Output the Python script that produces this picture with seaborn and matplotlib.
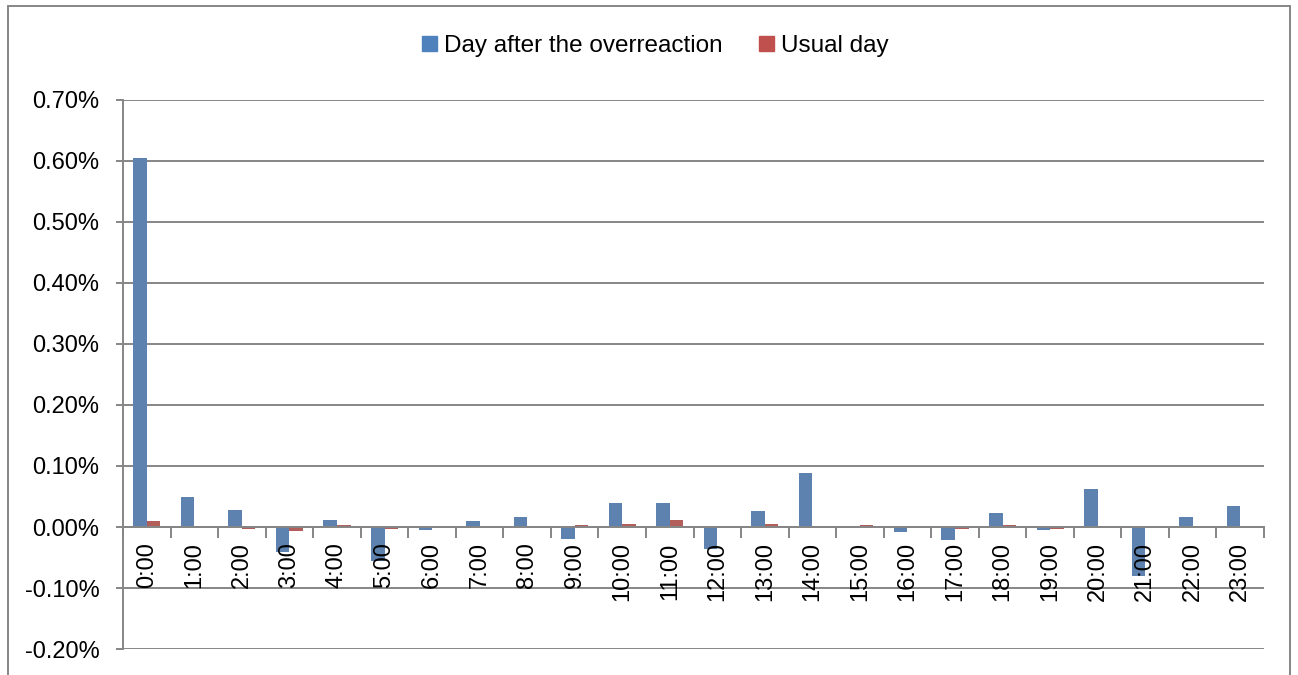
import pandas as pd
import numpy as np
import matplotlib.pyplot as plt
import matplotlib.patches as patches
from matplotlib.ticker import FuncFormatter, FixedLocator
import seaborn as sns

#values (in percent)
hours = [str(h) + ":00" for h in range(24)]
day_after = [0.605, 0.049, 0.028, -0.041, 0.012, -0.055, -0.005, 0.010, 0.017, -0.019,
             0.040, 0.040, -0.036, 0.027, 0.088, 0.001, -0.009, -0.022, 0.023, -0.005,
             0.063, -0.080, 0.016, 0.034]
usual_day = [0.010, -0.002, -0.004, -0.007, 0.004, -0.004, -0.002, 0.002, -0.001, 0.004,
             0.005, 0.012, 0.001, 0.005, 0.001, 0.004, 0.000, -0.004, 0.004, -0.003,
             0.001, 0.001, 0.001, 0.000]
series = ["Day after the overreaction", "Usual day"]
colors = ["#4F81BD", "#C0504D"]

df = pd.DataFrame({"hour": hours * 2,
                   "value": day_after + usual_day,
                   "series": [series[0]] * 24 + [series[1]] * 24})

sns.set_style("white")
plt.rcParams['font.family'] = ['Liberation Sans', 'DejaVu Sans']
plt.rcParams['text.color'] = 'black'
plt.rcParams['xtick.labelcolor'] = 'black'
plt.rcParams['ytick.labelcolor'] = 'black'

fig = plt.figure(figsize=(12.98, 6.75), dpi=100)
ax = fig.add_axes([0.0948, 0.0385, 0.879, 0.8134])

sns.barplot(data=df, x="hour", y="value", hue="series", palette=colors,
            width=0.57, ax=ax, legend=True, linewidth=0)

grid_col = "#868686"
ax.set_xlim(-0.5, 23.5)
ax.set_ylim(-0.2, 0.7)
ax.set_yticks(np.arange(-0.2, 0.71, 0.1))
ax.yaxis.set_major_formatter(FuncFormatter(lambda v, p: "%.2f%%" % v))
ax.yaxis.grid(True, color=grid_col, linewidth=1.4)
ax.set_axisbelow(True)
#hour labels sit on top of the bars
ax.xaxis.set_zorder(3)

for s in ["top", "right"]:
    ax.spines[s].set_visible(False)
ax.spines["left"].set_color(grid_col)
ax.spines["left"].set_linewidth(1.4)
ax.spines["bottom"].set_position(("data", 0))
ax.spines["bottom"].set_color(grid_col)
ax.spines["bottom"].set_linewidth(1.4)

ax.set_xlabel("")
ax.set_ylabel("")
ax.tick_params(axis="y", length=5, width=1.4, color=grid_col, pad=12, labelsize=17, left=True)
ax.tick_params(axis="x", which="major", length=0, pad=11, labelsize=17, rotation=90)
ax.xaxis.set_minor_locator(FixedLocator(np.arange(-0.5, 24, 1)))
ax.tick_params(axis="x", which="minor", length=8, width=1.4, color=grid_col, direction="out", bottom=True)
for lbl in ax.get_xticklabels():
    lbl.set_va("top")

ax.get_legend().remove()
handles = [patches.Patch(color=c) for c in colors]
fig.legend(handles, series, loc="center", bbox_to_anchor=(0.505, 0.932), ncol=2,
           frameon=False, fontsize=17.5, handlelength=0.6, handleheight=0.6,
           handletextpad=0.3, columnspacing=1.5)

#outer chart frame
fig.patches.append(patches.Rectangle((0.006, -0.02), 0.988, 1.011, transform=fig.transFigure,
                                     fill=False, edgecolor=grid_col, linewidth=1.4))

plt.savefig("out.png", dpi=100)
